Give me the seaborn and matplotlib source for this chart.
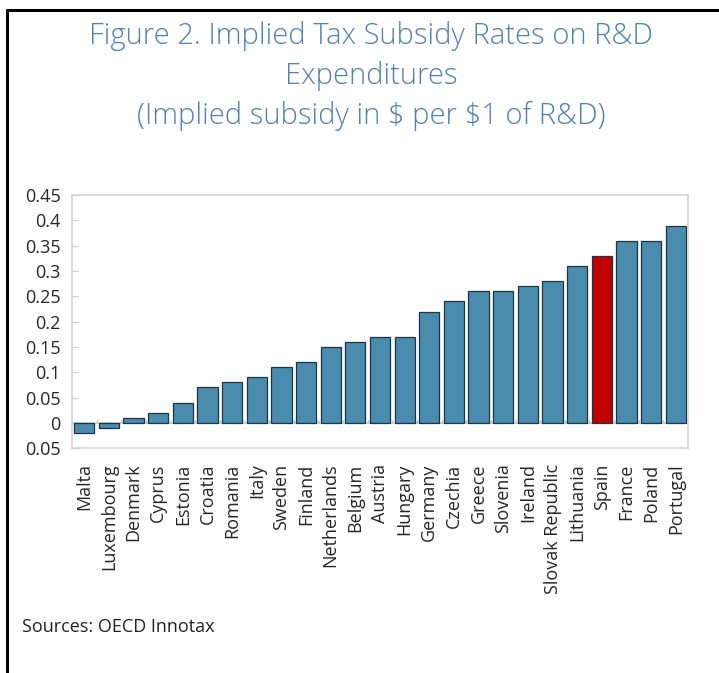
import numpy as np
import pandas as pd
import seaborn as sns
from matplotlib import pyplot as plt
from matplotlib.ticker import FuncFormatter
from matplotlib.lines import Line2D

countries = [
    "Malta", "Luxembourg", "Denmark", "Cyprus", "Estonia", "Croatia",
    "Romania", "Italy", "Sweden", "Finland", "Netherlands", "Belgium",
    "Austria", "Hungary", "Germany", "Czechia", "Greece", "Slovenia",
    "Ireland", "Slovak Republic", "Lithuania", "Spain", "France", "Poland",
    "Portugal",
]
subsidy = [
    -0.02, -0.01, 0.01, 0.02, 0.04, 0.07, 0.08, 0.09, 0.11, 0.12, 0.15,
    0.16, 0.17, 0.17, 0.22, 0.24, 0.26, 0.26, 0.27, 0.28, 0.31, 0.33, 0.36,
    0.36, 0.39,
]
highlight = "Spain"
y_ticks = [-0.05, 0, 0.05, 0.1, 0.15, 0.2, 0.25, 0.3, 0.35, 0.4, 0.45]

BLUE = "#4a8cad"
RED = "#c00000"
TITLE_COLOR = "#4f82b2"

df = pd.DataFrame({"country": countries, "subsidy": subsidy})
palette = {c: (RED if c == highlight else BLUE) for c in countries}

sns.set_style("white")
plt.rcParams["font.family"] = ["Open Sans", "DejaVu Sans"]

fig = plt.figure(figsize=(7.19, 6.73), dpi=100)
ax = fig.add_axes([0.100, 0.334, 0.857, 0.376])

sns.barplot(
    data=df,
    x="country",
    y="subsidy",
    hue="country",
    palette=palette,
    legend=False,
    width=0.82,
    edgecolor="#1e3442",
    linewidth=0.9,
    saturation=1,
    ax=ax,
)

ax.set_ylim(-0.05, 0.45)
ax.set_xlim(-0.5, len(countries) - 0.5)
ax.set_yticks(y_ticks)
ax.yaxis.set_major_formatter(FuncFormatter(lambda v, p: f"{abs(v):g}"))
ax.tick_params(axis="y", direction="in", length=4, color="#c8c8c8",
               labelsize=13, pad=8, left=True)
ax.tick_params(axis="x", length=0, labelsize=13, rotation=90, pad=11)
ax.set_xlabel("")
ax.set_ylabel("")
for s in ax.spines.values():
    s.set_color("#d4d4d4")
    s.set_linewidth(1.2)

# zero line with small category separators
ax.axhline(0, color="#c8c8c8", lw=1.2, zorder=0.5)
for b in np.arange(0.5, len(countries) - 0.5, 1):
    ax.plot([b, b], [0, 0.006], color="#c8c8c8", lw=1, zorder=0.5)

title_lines = [
    "Figure 2. Implied Tax Subsidy Rates on R&D",
    "Expenditures",
    r"(Implied subsidy in \$ per \$1 of R&D)",
]
for i, line in enumerate(title_lines):
    fig.text(0.516, 0.951 - 0.0595 * i - 0.004, line,
             ha="center", va="center", fontsize=21, color=TITLE_COLOR,
             fontweight="light")
fig.text(0.031, 0.068, "Sources: OECD Innotax", ha="left", va="center",
         fontsize=13, color="#222222")

# outer frame
fig.add_artist(Line2D([0.0098, 0.0098], [0.985, -0.01], color="black",
                      lw=2.2, transform=fig.transFigure))
fig.add_artist(Line2D([0.0098, 1.01], [0.985, 0.985], color="black",
                      lw=2.2, transform=fig.transFigure))

fig.savefig("out.png", dpi=100)
